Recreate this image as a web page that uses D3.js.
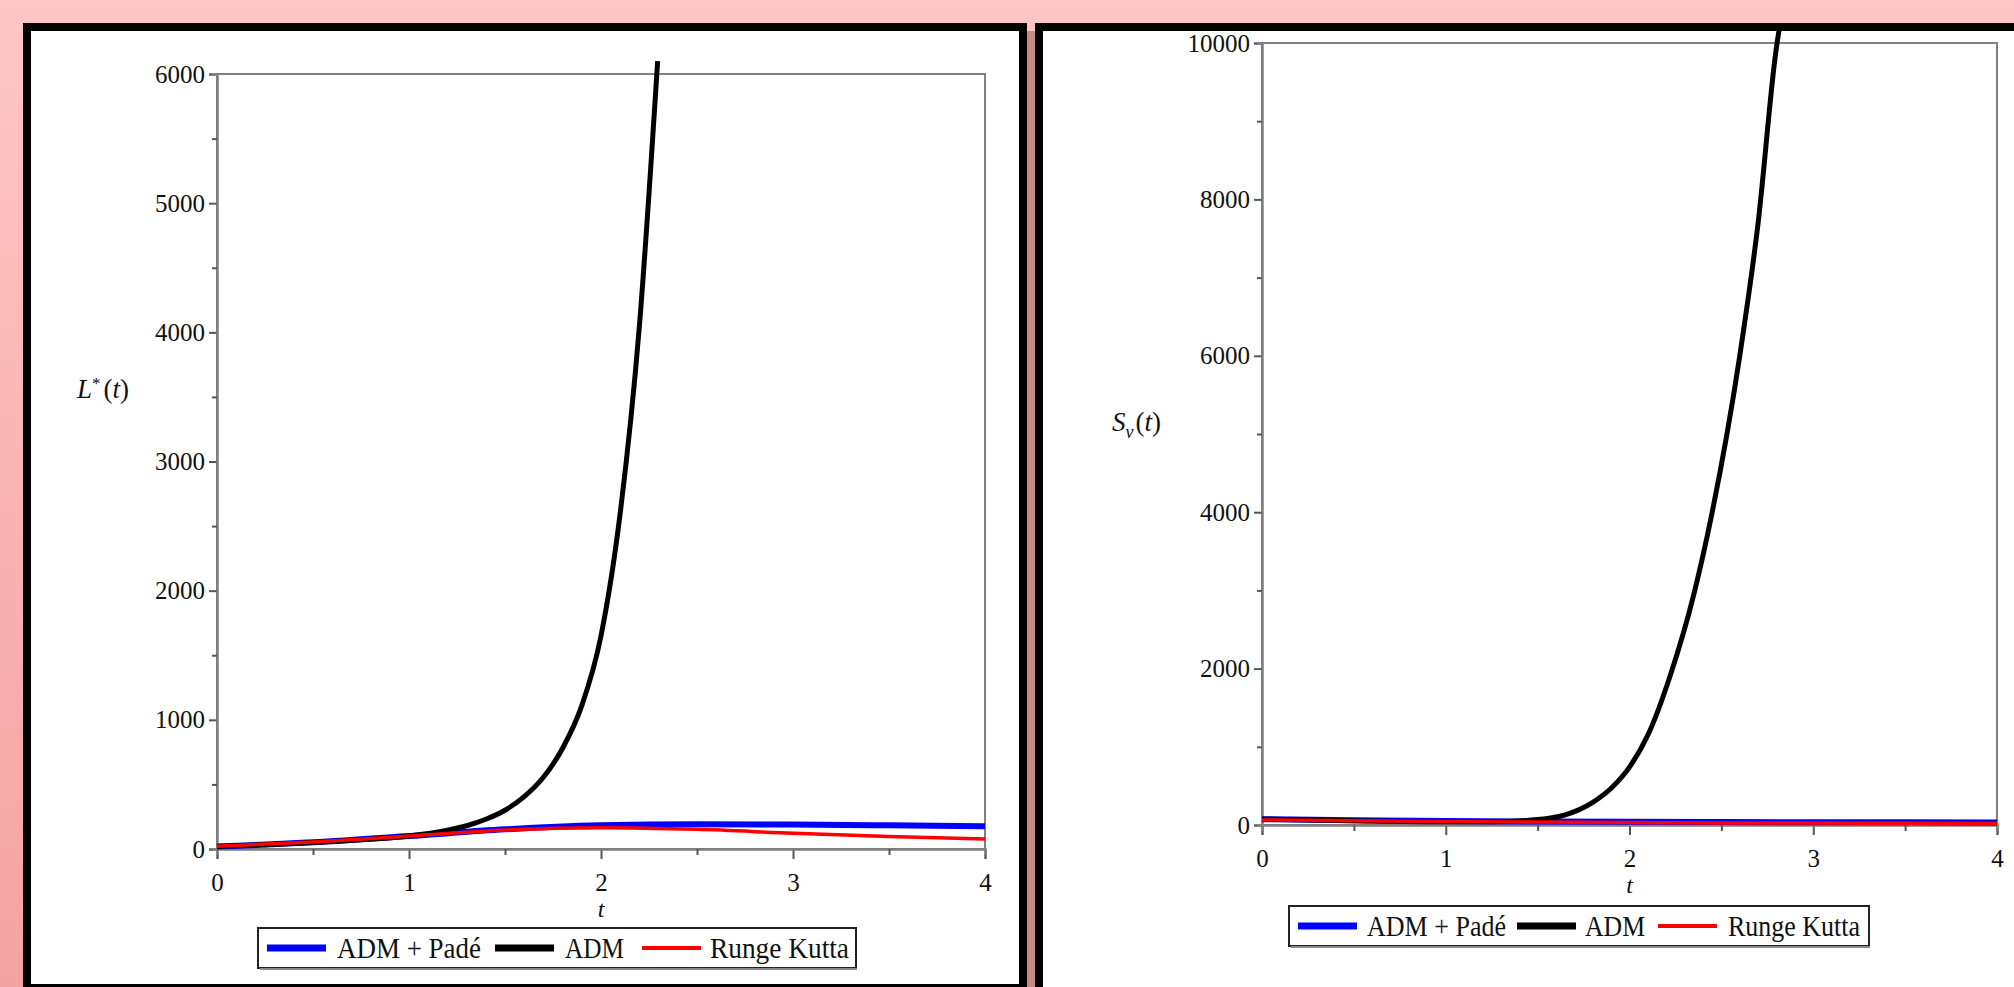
<!DOCTYPE html>
<html>
<head>
<meta charset="utf-8">
<script src="https://cdn.jsdelivr.net/npm/d3@7"></script>
<style>
  html, body { margin: 0; padding: 0; overflow: hidden; }
  body { width: 2014px; height: 987px; }
  text { font-family: "Liberation Serif", "Times New Roman", serif; fill: #111; }
</style>
</head>
<body>
<div id="chart"></div>
<script>
// ---- data ----
var tTicks = [0, 1, 2, 3, 4];
var tMinor = [0.5, 1.5, 2.5, 3.5];
var leftYTicks = [0, 1000, 2000, 3000, 4000, 5000, 6000];
var leftYMinor = [500, 1500, 2500, 3500, 4500, 5500];
var rightYTicks = [0, 2000, 4000, 6000, 8000, 10000];
var rightYMinor = [1000, 3000, 5000, 7000, 9000];
var legendLabels = ["ADM + Padé", "ADM", "Runge Kutta"];

// L*(t)
var leftPade = [[0,20],[0.5,52],[1,100],[1.5,152],[2,183],[2.5,192],[3,189],[3.5,183],[4,176]];
var leftAdm = [[0,20],[0.25,33],[0.5,50],[0.75,72],[1,100],[1.2,145],[1.3,180],[1.4,230],[1.5,300],
               [1.6,405],[1.7,555],[1.8,780],[1.9,1110],[2.0,1650],[2.1,2600],[2.2,4050],[2.295,6100]];
var leftRk = [[0,22],[0.5,55],[1,100],[1.5,147],[2,165],[2.5,152],[3,122],[3.5,96],[4,78]];

// S_v(t)
var rightPade = [[0,75],[0.5,62],[1,50],[1.5,44],[2,40],[2.5,37],[3,35],[3.5,34],[4,33]];
var rightAdm = [[0,75],[0.5,55],[1,42],[1.25,42],[1.5,70],[1.65,130],[1.8,290],[1.9,470],[2.0,740],
                [2.1,1150],[2.22,1900],[2.35,2950],[2.45,4000],[2.6,6000],[2.7,7700],[2.8,9950],[2.82,10250]];
var rightRk = [[0,65],[0.5,55],[1,45],[1.5,38],[2,32],[2.5,27],[3,24],[3.5,22],[4,20]];

var W = 2014, H = 987;

var svg = d3.select("#chart").append("svg")
    .attr("width", W)
    .attr("height", H);

// pink background
var defs = svg.append("defs");
var grad = defs.append("linearGradient").attr("id", "bg")
    .attr("x1", 0).attr("y1", 0).attr("x2", 0).attr("y2", 1);
grad.append("stop").attr("offset", "0%").attr("stop-color", "#ffc6c6");
grad.append("stop").attr("offset", "100%").attr("stop-color", "#f3a2a2");
svg.append("rect").attr("width", W).attr("height", H).attr("fill", "url(#bg)");

// panel frames
svg.append("rect").attr("x", 1027).attr("y", 31).attr("width", 8).attr("height", H)
    .attr("fill", "#c98989");
svg.append("rect").attr("x", 27).attr("y", 27).attr("width", 996).attr("height", 961)
    .attr("fill", "#fff").attr("stroke", "#000").attr("stroke-width", 8);
svg.append("rect").attr("x", 1039).attr("y", 27).attr("width", 1000).attr("height", 1000)
    .attr("fill", "#fff").attr("stroke", "#000").attr("stroke-width", 8);

var colors = { pade: "#0000ff", adm: "#000000", rk: "#ff0000" };

function drawPanel(p) {
  var x = d3.scaleLinear().domain([0, 4]).range([p.x0, p.x1]);
  var y = d3.scaleLinear().domain([0, p.ymax]).range([p.y0, p.y1]);
  var g = svg.append("g");

  // plot box
  g.append("rect")
      .attr("x", p.x0).attr("y", p.y1)
      .attr("width", p.x1 - p.x0).attr("height", p.y0 - p.y1)
      .attr("fill", "none").attr("stroke", "#7f7f7f").attr("stroke-width", 2);

  // x axis
  var xAxis = d3.axisBottom(x).tickValues(tTicks).tickSize(10).tickPadding(14)
      .tickFormat(d3.format("d"));
  var xa = g.append("g").attr("transform", "translate(0," + p.y0 + ")").call(xAxis);
  xa.selectAll(".tick line").attr("stroke", "#555").attr("stroke-width", 2);
  g.append("g").attr("transform", "translate(0," + p.y0 + ")")
      .call(d3.axisBottom(x).tickValues(tMinor).tickSize(6).tickFormat(""))
      .selectAll(".tick line").attr("stroke", "#555").attr("stroke-width", 2);

  // y axis
  var yAxis = d3.axisLeft(y).tickValues(p.yTicks).tickSize(8).tickPadding(4)
      .tickFormat(d3.format("d"));
  var ya = g.append("g").attr("transform", "translate(" + p.x0 + ",0)").call(yAxis);
  ya.selectAll(".tick line").attr("stroke", "#555").attr("stroke-width", 2);
  g.append("g").attr("transform", "translate(" + p.x0 + ",0)")
      .call(d3.axisLeft(y).tickValues(p.yMinor).tickSize(5).tickFormat(""))
      .selectAll(".tick line").attr("stroke", "#555").attr("stroke-width", 2);

  g.selectAll(".domain").attr("stroke", "#7f7f7f").attr("stroke-width", 2);
  g.selectAll(".tick text")
      .style("font-family", "'Liberation Serif', serif")
      .style("font-size", "25px")
      .attr("fill", "#111");

  // curves
  var line = d3.line()
      .x(function(d) { return x(d[0]); })
      .y(function(d) { return y(d[1]); })
      .curve(d3.curveMonotoneX);

  g.append("path").datum(p.pade).attr("d", line).attr("fill", "none")
      .attr("stroke", colors.pade).attr("stroke-width", 6);
  g.append("path").datum(p.adm).attr("d", line).attr("fill", "none")
      .attr("stroke", colors.adm).attr("stroke-width", 5);
  g.append("path").datum(p.rk).attr("d", line).attr("fill", "none")
      .attr("stroke", colors.rk).attr("stroke-width", 3.5);

  // t label
  g.append("text")
      .attr("x", (p.x0 + p.x1) / 2)
      .attr("y", p.y0 + 68)
      .attr("text-anchor", "middle")
      .style("font-size", "24px")
      .style("font-style", "italic")
      .text("t");

  // y label
  var yl = g.append("text")
      .attr("x", p.labX).attr("y", p.labY)
      .style("font-size", "27px");
  p.label(yl);

  // legend
  var lg = g.append("g").attr("transform", "translate(" + p.legX + "," + p.legY + ")");
  lg.append("rect").attr("x", 0).attr("y", 0).attr("width", p.legW).attr("height", 40)
      .attr("fill", "#fff").attr("stroke", "#222").attr("stroke-width", 2);
  lg.append("line").attr("x1", 2).attr("x2", p.legW + 1).attr("y1", 41).attr("y2", 41)
      .attr("stroke", "#888").attr("stroke-width", 2);
  var strokes = [colors.pade, colors.adm, colors.rk];
  var widths = [7, 7, 4];
  legendLabels.forEach(function(label, i) {
    var it = p.leg[i];
    lg.append("line").attr("x1", it[0]).attr("x2", it[0] + 59)
        .attr("y1", 20).attr("y2", 20)
        .attr("stroke", strokes[i]).attr("stroke-width", widths[i]);
    lg.append("text").attr("x", it[1]).attr("y", 30)
        .style("font-size", "29px")
        .attr("textLength", it[2])
        .attr("lengthAdjust", "spacingAndGlyphs")
        .text(label);
  });
}

drawPanel({
  x0: 217, x1: 985, y0: 849, y1: 74, ymax: 6000,
  yTicks: leftYTicks, yMinor: leftYMinor,
  pade: leftPade, adm: leftAdm, rk: leftRk,
  labX: 77, labY: 398,
  label: function(t) {
    t.append("tspan").style("font-style", "italic").text("L");
    t.append("tspan").attr("dy", -9).style("font-size", "17px").text("*");
    t.append("tspan").attr("dy", 9).attr("dx", 3).text("(");
    t.append("tspan").style("font-style", "italic").text("t");
    t.append("tspan").text(")");
  },
  legX: 258, legY: 928, legW: 598,
  leg: [[9, 79, 144], [237, 307, 59], [384, 452, 139]]
});

drawPanel({
  x0: 1262, x1: 1997, y0: 825, y1: 43, ymax: 10000,
  yTicks: rightYTicks, yMinor: rightYMinor,
  pade: rightPade, adm: rightAdm, rk: rightRk,
  labX: 1112, labY: 431,
  label: function(t) {
    t.append("tspan").style("font-style", "italic").text("S");
    t.append("tspan").attr("dy", 7).style("font-size", "18px").style("font-style", "italic").text("v");
    t.append("tspan").attr("dy", -7).attr("dx", 2).text("(");
    t.append("tspan").style("font-style", "italic").text("t");
    t.append("tspan").text(")");
  },
  legX: 1289, legY: 906, legW: 580,
  leg: [[9, 78, 139], [228, 296, 60], [369, 439, 132]]
});
</script>
</body>
</html>
